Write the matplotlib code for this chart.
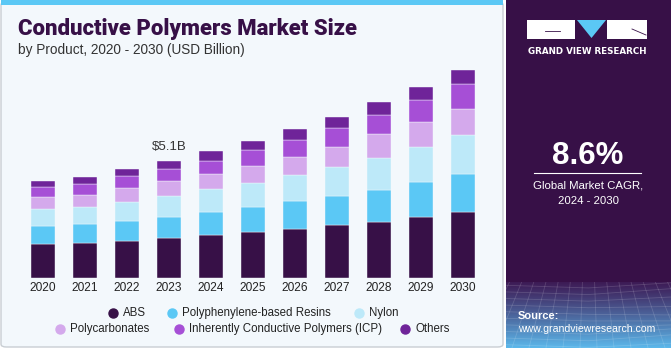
import matplotlib.pyplot as plt
import numpy as np
from matplotlib.patches import FancyBboxPatch, Rectangle, Polygon
from matplotlib.lines import Line2D

years = ["2020", "2021", "2022", "2023", "2024", "2025",
         "2026", "2027", "2028", "2029", "2030"]
series = ["ABS", "Polyphenylene-based Resins", "Nylon", "Polycarbonates",
          "Inherently Conductive Polymers (ICP)", "Others"]
abs_vals = [1.49, 1.54, 1.64, 1.74, 1.88, 2.00, 2.16, 2.30, 2.45, 2.65, 2.87]
ppe_vals = [0.80, 0.80, 0.86, 0.94, 1.01, 1.10, 1.20, 1.29, 1.41, 1.52, 1.65]
nylon_vals = [0.73, 0.78, 0.83, 0.90, 0.99, 1.03, 1.13, 1.23, 1.38, 1.54, 1.70]
pc_vals = [0.51, 0.49, 0.58, 0.64, 0.64, 0.74, 0.78, 0.90, 1.03, 1.07, 1.14]
icp_vals = [0.42, 0.51, 0.52, 0.54, 0.59, 0.71, 0.74, 0.81, 0.81, 0.97, 1.10]
other_vals = [0.29, 0.28, 0.33, 0.35, 0.41, 0.39, 0.46, 0.49, 0.58, 0.55, 0.61]
colors = ["#371047", "#5BC8F5", "#BDE9F9", "#D4A9EC", "#A64FD6", "#6F2499"]
label_year = "2023"
label_text = "$5.1B"

W, H = 671, 350
BG = "#F3F8FC"
DARK = "#371047"


def px(x, y):
    return x / W, 1 - y / H


def add_patch(p, z):
    p.set_zorder(z)
    fig.patches.append(p)


fig = plt.figure(figsize=(W / 100, H / 100), dpi=100)
fig.patch.set_facecolor("white")

# left panel background + top strip (kept under the axes)
add_patch(FancyBboxPatch(px(1, 347), 502 / W, 345 / H,
                         boxstyle="round,pad=0,rounding_size=0.008",
                         transform=fig.transFigure, fc=BG, ec="#C9CED3", lw=1), -2)
add_patch(Rectangle(px(1, 5), 502 / W, 5 / H, transform=fig.transFigure,
                    fc="#5BC8F5", ec="none"), -1)

# right panel
add_patch(Rectangle(px(506, 348), 165 / W, 348 / H, transform=fig.transFigure,
                    fc=DARK, ec="none"), -2)
grad_ax = fig.add_axes([506 / W, 2 / H, 165 / W, 66 / H])
g = np.linspace(0, 1, 100)[:, None]
c0 = np.array([0.24, 0.10, 0.33])
c1 = np.array([0.36, 0.72, 0.92])
img = c0 + (c1 - c0) * (g ** 1.1)[..., None]
grad_ax.imshow(np.repeat(img, 10, axis=1), aspect="auto", extent=[0, 1, 0, 1], origin="upper")
for k in np.linspace(-0.2, 1.2, 20):
    grad_ax.plot([k, k + (k - 0.5) * 0.4], [1, 0], color="white", alpha=0.15, lw=0.6)
for k in np.linspace(0.05, 0.95, 10):
    grad_ax.plot([0, 0.5, 1], [k, k - 0.04, k + 0.05 * np.sin(k * 9)], color="white",
                 alpha=0.15, lw=0.6)
grad_ax.set_xlim(0, 1)
grad_ax.set_ylim(0, 1)
grad_ax.axis("off")

# logo
add_patch(Rectangle(px(527, 39), 48 / W, 19 / H, transform=fig.transFigure,
                    fc="white", ec="none"), 3)
add_patch(Rectangle(px(607, 39), 40 / W, 19 / H, transform=fig.transFigure,
                    fc="white", ec="none"), 3)
add_patch(Polygon([px(577, 20), px(606, 20), px(591.5, 38)], closed=True,
                  transform=fig.transFigure, fc="#5BC8F5", ec="none"), 3)
fig.lines.append(Line2D([545 / W, 560 / W], [1 - 31 / H, 1 - 31 / H],
                        transform=fig.transFigure, color=DARK, lw=0.6, zorder=4))
fig.lines.append(Line2D([632 / W, 646 / W], [1 - 29 / H, 1 - 35 / H],
                        transform=fig.transFigure, color=DARK, lw=0.6, zorder=4))
fig.text(*px(587, 51), "GRAND VIEW RESEARCH", color="white", fontsize=6.3,
         fontweight="bold", ha="center", va="center", family="DejaVu Sans")

fig.text(*px(588, 156), "8.6%", color="white", fontsize=22.5, fontweight="bold",
         ha="center", va="center", family="Liberation Sans")
fig.lines.append(Line2D([534 / W, 641 / W], [1 - 173 / H, 1 - 173 / H],
                        transform=fig.transFigure, color="white", lw=0.8))
fig.text(*px(588, 185), "Global Market CAGR,", color="white", fontsize=8.2,
         ha="center", va="center", family="Liberation Sans")
fig.text(*px(588, 201), "2024 - 2030", color="white", fontsize=8.2,
         ha="center", va="center", family="Liberation Sans")
fig.text(*px(518, 316), "Source:", color="white", fontsize=8, fontweight="bold",
         ha="left", va="center", family="Liberation Sans")
fig.text(*px(518, 329), "www.grandviewresearch.com", color="white", fontsize=7.6,
         ha="left", va="center", family="Liberation Sans")

# titles
fig.text(*px(18, 29), "Conductive Polymers Market Size", color=DARK, fontsize=15.9,
         fontweight="black", ha="left", va="center", family="Roboto")
fig.text(*px(18, 50), "by Product, 2020 - 2030 (USD Billion)", color="#333333",
         fontsize=9.8, ha="left", va="center", family="Liberation Sans")

# stacked bars
ax = fig.add_axes([22 / W, (H - 278.3) / H, 462 / W, 218.5 / H])
ax.set_facecolor("none")
x = np.arange(len(years))
bottom = np.zeros(len(years))
for name, vals, col in zip(series, [abs_vals, ppe_vals, nylon_vals, pc_vals, icp_vals, other_vals], colors):
    ax.bar(x, vals, bottom=bottom, width=0.57, color=col, edgecolor=BG, linewidth=0.3, label=name)
    bottom = bottom + np.array(vals)

i = years.index(label_year)
ax.text(x[i], bottom[i] + 0.35, label_text, ha="center", va="bottom", fontsize=9.5,
        color="#333333", family="Liberation Sans")

ax.set_xlim(-0.5, len(years) - 0.5)
ax.set_ylim(0, 9.5)
ax.set_xticks(x)
ax.set_xticklabels(years, fontsize=8.6, color="#222222", family="Liberation Sans")
ax.tick_params(axis="x", length=0, pad=3)
ax.set_yticks([])
for s in ax.spines.values():
    s.set_visible(False)

# legend
legend_pos = [(112.7, 312.7), (172, 312.7), (359, 312.7),
              (60, 329), (179, 329), (405, 329)]
for name, col, (lx, ly) in zip(series, colors, legend_pos):
    fig.lines.append(Line2D([lx / W], [1 - ly / H], marker="o", markersize=6.5, color=col,
                            transform=fig.transFigure, linestyle="none"))
    fig.text(*px(lx + 10, ly), name, fontsize=8.3, color="#222222", ha="left",
             va="center", family="Liberation Sans")

fig.savefig("out.png", dpi=100, facecolor=fig.get_facecolor())
